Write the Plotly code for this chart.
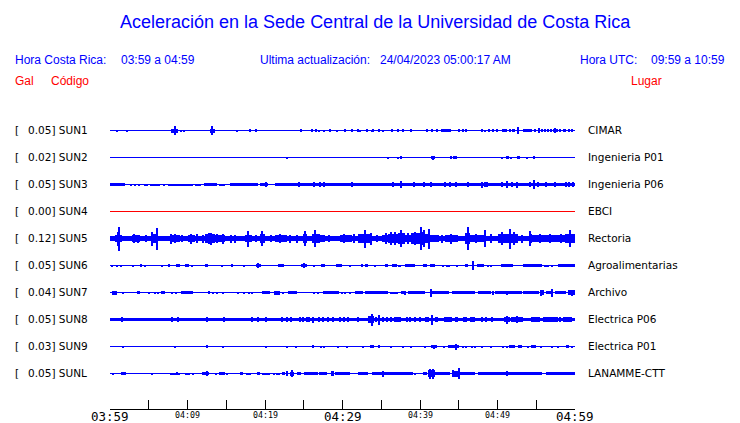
import plotly.graph_objects as go

# ---------------- data ----------------
codes = ["SUN1", "SUN2", "SUN3", "SUN4", "SUN5", "SUN6", "SUN7", "SUN8", "SUN9", "SUNL"]
places = ["CIMAR", "Ingenieria P01", "Ingenieria P06", "EBCI", "Rectoria",
          "Agroalimentarias", "Archivo", "Electrica P06", "Electrica P01", "LANAMME-CTT"]
gal = [0.05, 0.02, 0.05, 0.00, 0.12, 0.05, 0.04, 0.05, 0.03, 0.05]

tick_minutes = [0, 10, 20, 30, 40, 50, 60]
tick_labels = ["03:59", "04:09", "04:19", "04:29", "04:39", "04:49", "04:59"]
tick_major = [True, False, False, True, False, False, True]

# amplitude envelopes: (start_min, end_min, half_amp) and spikes (min, half_amp)
sun1_bands = [(7.9, 8.8, 2.0), (12.95, 13.55, 2.0), (42.7, 44.0, 1.3), (50.6, 51.2, 1.3), (51.9, 52.3, 1.3),
              (53.3, 54.4, 1.3), (57.2, 57.8, 1.3), (58.4, 58.9, 1.3)]
sun1_spikes = [(0.9, 0.8), (2.2, 0.8), (8.4, 4.3), (9.2, 1.0), (9.6, 1.0), (13.2, 4.3), (16.4, 0.8), (18.1, 1.3),
               (18.8, 1.3), (24.7, 1.3), (26.1, 1.3), (26.6, 1.3), (27.0, 1.0), (27.7, 1.0), (28.4, 1.3), (29.3, 1.0),
               (30.3, 1.3), (31.2, 1.3), (32.0, 1.3), (32.3, 1.0), (33.2, 1.3), (33.8, 1.0), (34.0, 1.3), (34.75, 1.3),
               (35.3, 1.0), (36.4, 1.3), (37.2, 1.3), (37.8, 1.3), (38.8, 1.3), (40.9, 1.3), (41.6, 1.3), (42.2, 1.3),
               (45.0, 1.3), (45.6, 1.3), (46.0, 1.3), (48.0, 1.3), (48.4, 1.0), (48.9, 1.3), (49.5, 1.3), (50.0, 1.3),
               (51.6, 1.3), (52.7, 3.3), (54.8, 1.3), (55.35, 2.3), (55.8, 1.3), (56.1, 1.3), (56.5, 1.3), (56.9, 1.3),
               (57.4, 2.3), (58.1, 1.3), (59.2, 1.3), (59.6, 1.3)]

sun2_bands = [(41.4, 41.9, 1.3), (44.3, 44.8, 1.3), (51.1, 51.5, 1.3), (52.5, 52.9, 1.3)]
sun2_spikes = [(22.9, 1.0), (35.9, 0.8), (37.2, 0.8), (37.6, 1.3), (41.7, 2.0), (44.0, 1.3), (50.6, 0.8),
               (51.8, 0.8), (53.8, 0.8), (54.7, 1.3)]

sun3_bands = [(0.0, 1.9, 1.2), (2.6, 2.8, 1.0), (4.4, 4.9, 1.0), (5.2, 6.5, 1.0), (7.5, 10.75, 1.0),
              (11.0, 11.8, 0.8), (12.1, 13.8, 1.2), (14.0, 14.8, 1.0), (15.5, 19.1, 1.2), (19.4, 20.4, 1.2),
              (21.3, 60.0, 1.7)]
sun3_spikes = [(1.7, 1.7), (3.2, 1.0), (3.8, 1.0), (7.0, 1.0), (19.7, 1.7), (20.1, 2.5), (24.4, 2.3), (26.4, 2.3),
               (27.1, 2.3), (27.7, 2.3), (31.2, 2.3), (36.6, 2.3), (37.6, 3.5), (39.3, 2.3), (40.6, 2.3),
               (41.5, 2.5), (43.2, 2.5), (43.9, 2.3), (44.7, 2.3), (46.2, 2.3), (48.0, 3.0), (48.4, 2.5),
               (48.7, 2.5), (50.6, 2.3), (51.3, 3.3), (51.9, 2.5), (52.6, 3.0), (54.2, 2.5), (54.75, 4.3),
               (55.3, 2.3), (56.3, 2.3), (57.5, 2.3), (58.8, 2.5), (59.3, 2.5), (59.8, 2.5)]

sun4_bands = []
sun4_spikes = []

sun5_bands = [(0.0, 0.65, 2.5), (0.65, 1.5, 3.8), (1.5, 2.8, 2.8), (2.8, 3.9, 3.3), (3.9, 5.4, 2.5), (5.4, 6.2, 4.3),
              (6.2, 7.7, 2.3), (7.7, 9.0, 3.3), (9.0, 10.1, 2.1), (10.1, 11.0, 3.3), (11.0, 12.3, 2.8),
              (12.3, 13.5, 4.3), (13.5, 14.8, 3.3), (14.8, 16.6, 2.8), (16.6, 17.4, 2.5), (17.4, 18.3, 3.8),
              (18.3, 19.4, 2.3), (19.4, 20.0, 4.3), (20.0, 21.3, 2.5), (21.3, 22.8, 3.3), (22.8, 24.9, 2.8),
              (24.9, 25.4, 4.3), (25.4, 26.0, 2.8), (26.0, 26.9, 4.3), (26.9, 27.7, 3.3), (27.7, 29.7, 2.5),
              (29.7, 31.2, 3.3), (31.2, 32.0, 2.8), (32.0, 33.3, 4.1), (33.3, 33.8, 4.3), (33.8, 35.1, 2.5),
              (35.1, 35.9, 3.8), (35.9, 37.2, 4.8), (37.2, 38.1, 5.3), (38.1, 38.9, 3.8), (38.9, 40.0, 5.3),
              (40.0, 40.6, 6.3), (40.6, 41.3, 4.3), (41.3, 42.4, 3.8), (42.4, 43.2, 2.8), (43.2, 44.9, 3.8),
              (44.9, 45.8, 2.5), (45.8, 46.5, 5.3), (46.5, 48.4, 3.3), (48.4, 50.1, 2.8), (50.1, 52.7, 4.3),
              (52.7, 54.0, 2.8), (54.0, 54.4, 4.8), (54.4, 58.7, 3.3), (58.7, 60.0, 4.3)]
sun5_spikes = [(1.0, 7.0), (1.16, 12.0), (3.1, 4.5), (3.6, 4.0), (4.7, 3.5), (5.5, 7.0), (6.1, 11.0), (7.96, 5.0),
               (8.4, 4.5), (9.3, 3.5), (10.5, 5.0), (11.3, 4.5), (12.0, 4.0), (12.8, 5.5), (13.1, 6.0), (13.8, 4.5),
               (14.6, 5.0), (15.6, 4.0), (16.2, 4.0), (17.85, 8.0), (18.8, 3.5), (19.6, 7.3), (20.8, 3.5),
               (22.0, 4.8), (23.3, 4.0), (24.2, 4.0), (25.2, 7.3), (26.45, 8.3), (27.0, 4.5), (28.3, 3.5),
               (30.2, 4.8), (31.5, 4.2), (32.9, 9.0), (33.7, 6.0), (34.5, 3.5), (35.6, 5.5), (36.3, 6.7),
               (36.8, 6.5), (37.6, 8.3), (38.5, 5.5), (39.35, 6.7), (40.1, 11.7), (40.6, 8.3), (41.2, 10.0),
               (42.8, 4.0), (44.0, 5.0), (46.2, 11.7), (47.3, 4.8), (48.4, 8.3), (49.2, 4.2), (50.6, 6.5),
               (51.6, 10.0), (52.2, 6.5), (53.2, 4.0), (54.2, 7.3), (55.5, 4.8), (56.8, 4.8), (58.2, 4.5),
               (59.35, 8.3)]

sun6_bands = [(0.13, 0.43, 1.0), (0.86, 1.08, 1.0), (8.5, 9.0, 1.3), (9.7, 10.2, 1.3), (12.3, 12.7, 1.3),
              (15.7, 15.9, 1.3), (18.9, 19.5, 1.3), (21.7, 22.4, 1.3), (24.7, 25.4, 1.7), (27.2, 27.7, 1.3),
              (29.1, 29.9, 1.3), (32.9, 33.3, 1.3), (35.5, 35.9, 1.3), (36.4, 37.0, 1.3), (37.2, 37.6, 1.0),
              (38.1, 39.4, 1.3), (40.4, 40.9, 1.3), (41.3, 41.9, 1.3), (43.4, 43.9, 1.0), (44.7, 44.9, 1.0),
              (45.8, 46.2, 1.3), (47.3, 48.2, 1.3), (50.5, 52.0, 1.3), (53.3, 55.7, 1.3), (56.0, 56.6, 1.0),
              (57.8, 60.0, 1.7)]
sun6_spikes = [(1.5, 0.8), (3.0, 0.8), (4.0, 1.7), (4.5, 0.8), (6.7, 0.8), (7.7, 1.3), (10.6, 0.8), (14.5, 0.8),
               (17.3, 1.0), (19.1, 2.7), (25.1, 2.3), (26.4, 1.0), (31.0, 0.8), (32.5, 1.3), (34.2, 0.8),
               (43.0, 1.0), (46.9, 4.7), (48.8, 1.0), (49.2, 1.0), (57.0, 1.0)]

sun7_bands = [(0.2, 0.9, 2.0), (3.5, 3.9, 1.3), (6.6, 7.1, 1.3), (9.2, 10.75, 1.3), (12.6, 12.9, 1.3),
              (19.6, 20.7, 1.3), (21.1, 21.9, 2.0), (23.0, 24.1, 1.3), (27.5, 29.5, 1.3), (31.6, 32.7, 1.3),
              (32.9, 35.9, 1.3), (36.1, 37.2, 1.0), (37.6, 38.1, 1.3), (38.5, 40.6, 1.3), (41.5, 43.7, 1.3),
              (44.1, 47.1, 1.3), (47.5, 49.2, 1.3), (49.7, 53.1, 1.3), (53.3, 55.3, 1.3), (55.5, 56.0, 2.7),
              (56.2, 56.9, 1.3), (57.4, 58.9, 1.3), (59.1, 60.0, 2.7)]
sun7_spikes = [(1.7, 0.8), (5.0, 0.8), (5.8, 0.8), (6.2, 0.8), (8.0, 1.0), (8.5, 0.8), (12.8, 1.3), (13.3, 0.8),
               (13.8, 0.8), (14.6, 1.0), (16.5, 0.8), (17.3, 0.8), (17.9, 0.8), (18.3, 0.8), (21.5, 2.0),
               (22.4, 0.8), (26.4, 1.0), (26.9, 1.0), (30.0, 0.8), (30.4, 0.8), (31.0, 0.8), (38.1, 2.0),
               (41.4, 4.0), (49.5, 2.0), (51.2, 2.0), (55.7, 3.0), (57.1, 4.0), (59.7, 3.0)]

sun8_bands = [(0.0, 60.0, 1.7), (33.3, 34.0, 3.3), (36.7, 37.6, 2.3), (40.7, 41.1, 2.7), (41.9, 42.3, 2.7),
              (43.1, 44.1, 2.3), (44.5, 44.9, 2.7), (45.6, 46.0, 2.7), (46.5, 47.1, 2.7), (50.8, 51.6, 2.7),
              (51.8, 53.3, 2.7), (54.3, 55.5, 2.7), (55.9, 57.6, 2.3), (58.5, 59.6, 2.7)]
sun8_spikes = [(1.6, 2.5), (8.0, 2.3), (8.8, 2.5), (12.5, 2.3), (14.7, 2.5), (18.3, 2.3), (19.1, 2.3), (20.2, 2.5),
               (22.2, 2.3), (22.8, 2.3), (23.4, 2.3), (24.5, 2.3), (24.9, 2.3), (25.4, 2.3), (25.7, 2.3),
               (26.2, 3.0), (27.0, 2.3), (27.5, 2.3), (28.2, 2.3), (28.8, 2.5), (29.7, 2.3), (30.2, 2.3),
               (30.7, 2.3), (32.0, 2.3), (33.8, 6.0), (34.4, 2.7), (34.75, 5.0), (35.3, 2.3), (35.8, 2.3),
               (36.3, 2.3), (38.3, 2.3), (38.7, 2.3), (39.4, 2.3), (40.0, 2.3), (41.6, 5.0), (48.0, 2.3),
               (48.6, 2.3), (49.3, 2.3), (51.3, 4.0), (52.6, 3.3), (57.7, 2.3), (58.1, 2.3)]

sun9_bands = [(33.6, 34.0, 1.3), (41.4, 42.2, 1.7), (43.6, 45.0, 1.7), (51.5, 52.2, 1.3), (52.6, 53.1, 1.3),
              (54.3, 55.0, 1.3), (58.8, 59.2, 1.3)]
sun9_spikes = [(1.7, 0.8), (8.4, 0.8), (12.5, 1.3), (14.6, 1.0), (20.2, 0.8), (22.9, 1.0), (24.0, 0.8),
               (26.2, 1.3), (27.2, 1.0), (27.7, 0.8), (29.5, 0.8), (30.6, 0.8), (32.7, 1.0), (34.7, 1.3),
               (36.3, 0.8), (37.8, 1.0), (38.8, 1.0), (40.7, 1.0), (41.8, 2.0), (43.1, 1.0), (44.7, 3.0),
               (45.6, 1.0), (46.0, 0.8), (46.7, 0.8), (47.1, 1.0), (48.0, 0.8), (49.2, 0.8), (50.7, 0.8),
               (51.2, 1.0), (54.0, 1.0), (55.7, 0.8), (57.0, 1.0), (57.8, 1.0), (59.6, 1.0)]

sunl_bands = [(1.4, 2.0, 1.3), (7.7, 9.0, 1.0), (9.7, 10.3, 1.0), (11.9, 12.8, 1.3), (14.1, 14.8, 1.7),
              (16.8, 17.2, 1.3), (17.5, 18.0, 1.0), (19.0, 19.3, 1.3), (19.6, 20.7, 1.0), (21.7, 21.9, 1.0),
              (22.2, 22.6, 1.3), (23.2, 23.8, 2.0), (24.1, 24.7, 1.3), (25.0, 26.9, 1.3), (27.0, 28.0, 1.3),
              (28.5, 28.9, 2.3), (29.0, 31.0, 1.3), (32.0, 33.3, 1.3), (33.8, 35.1, 1.3), (35.3, 39.1, 1.3),
              (40.4, 40.9, 1.7), (41.0, 41.9, 3.3), (41.9, 43.9, 1.3), (44.1, 45.0, 3.0), (45.0, 47.1, 1.3),
              (47.5, 55.7, 1.3), (56.2, 60.0, 1.3)]
sunl_spikes = [(0.4, 0.8), (5.5, 0.8), (8.7, 1.7), (10.7, 0.8), (12.5, 2.3), (13.7, 0.8), (15.1, 0.8),
               (18.1, 0.8), (21.2, 0.8), (21.6, 0.8), (22.9, 2.7), (23.5, 3.5), (28.7, 2.3), (35.2, 3.0),
               (39.4, 0.8), (41.3, 5.0), (41.7, 5.0), (44.3, 3.3), (45.0, 5.7), (51.3, 2.3)]

station_bands = [sun1_bands, sun2_bands, sun3_bands, sun4_bands, sun5_bands,
                 sun6_bands, sun7_bands, sun8_bands, sun9_bands, sunl_bands]
station_spikes = [sun1_spikes, sun2_spikes, sun3_spikes, sun4_spikes, sun5_spikes,
                  sun6_spikes, sun7_spikes, sun8_spikes, sun9_spikes, sunl_spikes]

# ---------------- layout geometry ----------------
OFF = 8                      # page body margin of the html page
W_FIG, H_FIG = 740 - OFF, 423 - OFF
PLOT_X0, PLOT_X1 = 110, 575  # page pixels of the time axis
PLOT_Y0, PLOT_Y1 = 110, 409  # page pixels of the plot area
L = PLOT_X0 - OFF
T = PLOT_Y0 - OFF
PW = PLOT_X1 - PLOT_X0
PH = PLOT_Y1 - PLOT_Y0
R = W_FIG - L - PW
B = H_FIG - T - PH
T_END = 60
ROW0, ROW_STEP = 278.5, 27
LABEL_LIFT = 0.8
SPIKE_W = 0.18

BLUE = "#0000ff"
RED = "#ff0000"
trace_colors = [BLUE, BLUE, BLUE, RED, BLUE, BLUE, BLUE, BLUE, BLUE, BLUE]


def px_x(p):
    return (p - PLOT_X0) / PW


def px_y(p):
    return (PLOT_Y1 - p) / PH


fig = go.Figure()

for i, code in enumerate(codes):
    c = ROW0 - ROW_STEP * i
    fig.add_trace(go.Scatter(x=[0, T_END], y=[c, c], mode="lines",
                             line=dict(color=trace_colors[i], width=1),
                             showlegend=False, hoverinfo="skip", name=code))
    xs, ws, bases, hs = [], [], [], []
    for (t0, t1, a) in station_bands[i]:
        xs.append((t0 + t1) / 2); ws.append(t1 - t0); bases.append(c - a); hs.append(2 * a)
    for (t, a) in station_spikes[i]:
        xs.append(t); ws.append(SPIKE_W); bases.append(c - a); hs.append(2 * a)
    if xs:
        fig.add_trace(go.Bar(x=xs, y=hs, base=bases, width=ws,
                             marker=dict(color=trace_colors[i], line=dict(width=0)),
                             showlegend=False, hoverinfo="skip", name=code))

annotations = []
label_font = dict(family="DejaVu Sans", size=10.5, color="black")
for i, code in enumerate(codes):
    c = ROW0 - ROW_STEP * i + LABEL_LIFT
    annotations.append(dict(x=px_x(12.5), y=c, xref="paper", yref="y", text="[", showarrow=False,
                            xanchor="left", yanchor="middle", font=label_font))
    annotations.append(dict(x=px_x(25.7), y=c, xref="paper", yref="y", text=f"{gal[i]:.2f}] {code}",
                            showarrow=False, xanchor="left", yanchor="middle", font=label_font))
    annotations.append(dict(x=px_x(585.8), y=c, xref="paper", yref="y", text=places[i], showarrow=False,
                            xanchor="left", yanchor="middle", font=label_font))

for t, lab, major in zip(tick_minutes, tick_labels, tick_major):
    annotations.append(dict(x=t, y=px_y(416.0 if major else 415.3), xref="x", yref="paper", text=lab,
                            showarrow=False, xanchor="center", yanchor="middle", borderpad=0,
                            font=dict(family="DejaVu Sans Mono", size=(12.5 if major else 8.3), color="black")))

hdr = dict(family="Liberation Sans", size=12, color=BLUE)
hdr_red = dict(family="Liberation Sans", size=12, color=RED)
header_items = [
    ("Hora Costa Rica:", 13, 60, hdr), ("03:59 a 04:59", 119, 60, hdr),
    ("Ultima actualización:", 258, 60, hdr), ("24/04/2023 05:00:17 AM", 378, 60, hdr),
    ("Hora UTC:", 578, 60, hdr), ("09:59 a 10:59", 649, 60, hdr),
    ("Gal", 13, 81, hdr_red), ("Código", 49, 81, hdr_red), ("Lugar", 629, 81, hdr_red),
]
for txt, xp, yp, f in header_items:
    annotations.append(dict(x=px_x(xp), y=px_y(yp), xref="paper", yref="paper", text=txt, showarrow=False,
                            xanchor="left", yanchor="middle", font=f))

annotations.append(dict(x=px_x(375), y=px_y(22), xref="paper", yref="paper",
                        text="Aceleración en la Sede Central de la Universidad de Costa Rica",
                        showarrow=False, xanchor="center", yanchor="middle",
                        font=dict(family="Liberation Sans", size=18, color=BLUE)))

fig.update_layout(
    width=W_FIG, height=H_FIG, margin=dict(l=L, r=R, t=T, b=B, pad=0),
    paper_bgcolor="white", plot_bgcolor="white", barmode="overlay", bargap=0,
    showlegend=False, annotations=annotations,
    xaxis=dict(range=[0, T_END], showgrid=False, zeroline=False, showline=True, linecolor="black", linewidth=1,
               ticks="inside", ticklen=9, tickwidth=1, tickcolor="black", tick0=0, dtick=5,
               showticklabels=False, fixedrange=True),
    yaxis=dict(range=[0, PH], visible=False, showgrid=False, zeroline=False, fixedrange=True),
)

fig.write_html("out.html")
